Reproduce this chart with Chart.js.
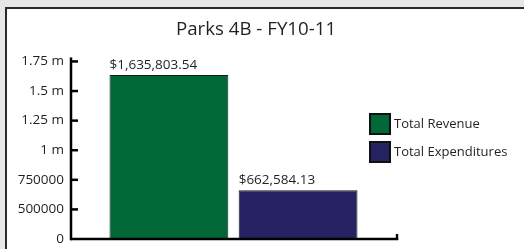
<!DOCTYPE html>
<html>
<head>
<meta charset="utf-8">
<script src="https://cdn.jsdelivr.net/npm/chart.js@4.4.1/dist/chart.umd.min.js"></script>
<style>
  html, body { margin: 0; padding: 0; background: #e6e7e8; width: 524px; height: 249px; overflow: hidden; }
  #panel { position: absolute; left: 5px; top: 7px; width: 700px; height: 400px; background: #ffffff;
           border-left: 2px solid #2b2a2a; border-top: 2px solid #2b2a2a; }
  #wrap { position: absolute; left: 0; top: 0; width: 524px; height: 249px; }
</style>
</head>
<body>
<div id="panel"></div>
<div id="wrap"><canvas id="c" width="524" height="249"></canvas></div>
<script>
const titleText = 'Parks 4B - FY10-11';
const categories = [''];
const seriesNames = ['Total Revenue', 'Total Expenditures'];
const revenueValues = [1635803.54];
const expenditureValues = [662584.13];
const seriesColors = ['#006837', '#262262'];
const tickValues = [250000, 500000, 750000, 1000000, 1250000, 1500000, 1750000];
const tickLabels = ['0', '500000', '750000', '1 m', '1.25 m', '1.5 m', '1.75 m'];

const FONT = "'Open Sans', 'Liberation Sans', sans-serif";
const INK = '#231f20';

const moneyFmt = v => '$' + v.toLocaleString('en-US', { minimumFractionDigits: 2, maximumFractionDigits: 2 });

const decorPlugin = {
  id: 'decor',
  afterDraw(chart) {
    const ctx = chart.ctx;
    const ca = chart.chartArea;
    const y = chart.scales.y;
    ctx.save();
    ctx.strokeStyle = '#000';
    // y axis line
    ctx.lineWidth = 2.5;
    ctx.beginPath();
    ctx.moveTo(ca.left + 1, ca.top - 4);
    ctx.lineTo(ca.left + 1, ca.bottom + 1.2);
    ctx.stroke();
    // x axis line
    ctx.lineWidth = 2.4;
    ctx.beginPath();
    ctx.moveTo(ca.left, ca.bottom);
    ctx.lineTo(ca.right + 1.2, ca.bottom);
    ctx.stroke();
    // x axis end tick
    ctx.beginPath();
    ctx.moveTo(ca.right, ca.bottom + 1);
    ctx.lineTo(ca.right, ca.bottom - 5);
    ctx.stroke();
    // inner tick marks on y axis
    ctx.lineWidth = 2.5;
    tickValues.forEach(v => {
      if (v === tickValues[0]) return;
      const py = y.getPixelForValue(v);
      ctx.beginPath();
      ctx.moveTo(ca.left, py);
      ctx.lineTo(ca.left + 8, py);
      ctx.stroke();
    });

    // value labels, left aligned at bar's left edge
    ctx.font = '13.5px ' + FONT;
    ctx.fillStyle = INK;
    ctx.textAlign = 'left';
    ctx.textBaseline = 'alphabetic';
    chart.data.datasets.forEach((ds, di) => {
      const meta = chart.getDatasetMeta(di);
      meta.data.forEach((bar, i) => {
        const left = bar.x - bar.width / 2;
        ctx.fillText(moneyFmt(ds.data[i]), left, bar.y - 6);
      });
    });

    // legend
    const bx = ca.right - 28;
    const by0 = 113;
    chart.data.datasets.forEach((ds, di) => {
      const by = by0 + di * 28;
      ctx.fillStyle = ds.backgroundColor;
      ctx.fillRect(bx + 1, by + 1, 20, 20);
      ctx.strokeStyle = '#111';
      ctx.lineWidth = 2;
      ctx.strokeRect(bx + 1, by + 1, 20, 20);
      ctx.fillStyle = INK;
      ctx.textBaseline = 'middle';
      ctx.font = '13px ' + FONT;
      ctx.fillText(ds.label, bx + 25, by + 11.5);
    });
    ctx.restore();
  }
};

new Chart(document.getElementById('c'), {
  type: 'bar',
  data: {
    labels: categories,
    datasets: [
      { label: seriesNames[0], data: revenueValues, backgroundColor: seriesColors[0], borderColor: '#1a1a1a', borderWidth: 1, borderSkipped: false },
      { label: seriesNames[1], data: expenditureValues, backgroundColor: seriesColors[1], borderColor: '#1a1a1a', borderWidth: 1, borderSkipped: false }
    ]
  },
  options: {
    responsive: false,
    animation: false,
    categoryPercentage: 0.79,
    barPercentage: 0.92,
    layout: { padding: { left: 0, right: 12, top: 0, bottom: 10 } },
    plugins: {
      legend: { display: false },
      tooltip: { enabled: false },
      title: {
        display: true,
        text: titleText,
        color: INK,
        font: { family: FONT, size: 18.7, weight: 'normal' },
        padding: { top: 18, bottom: 21 }
      }
    },
    scales: {
      x: {
        display: false
      },
      y: {
        min: 250000,
        max: 1750000,
        afterBuildTicks(s) { s.ticks = tickValues.map(v => ({ value: v })); },
        ticks: {
          color: INK,
          font: { family: FONT, size: 13.5 },
          padding: 6,
          callback: (v) => tickLabels[tickValues.indexOf(v)]
        },
        grid: { display: false, drawTicks: false },
        border: { display: false },
        afterFit(s) { s.width = 70; s.paddingTop = 0; s.paddingBottom = 0; }
      },
      y2: {
        position: 'right',
        display: true,
        grid: { display: false, drawTicks: false },
        ticks: { display: false },
        border: { display: false },
        afterFit(s) { s.width = 115; s.paddingTop = 0; s.paddingBottom = 0; }
      }
    }
  },
  plugins: [decorPlugin]
});
</script>
</body>
</html>
